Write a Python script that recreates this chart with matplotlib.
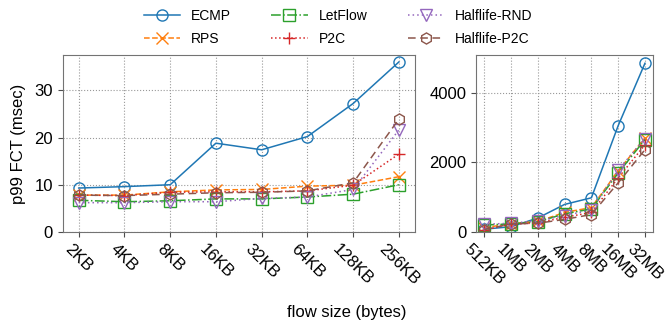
import numpy as np
import matplotlib
matplotlib.use("Agg")
import matplotlib.pyplot as plt

plt.rcParams['font.family'] = ['Liberation Sans', 'DejaVu Sans']
plt.rcParams['font.size'] = 12

# small flows (msec)
small_sizes = ["2KB", "4KB", "8KB", "16KB", "32KB", "64KB", "128KB", "256KB"]
ecmp_s = [9.3, 9.6, 10.0, 18.8, 17.4, 20.2, 27.2, 36.0]
rps_s = [7.8, 7.8, 8.5, 8.9, 9.0, 9.7, 9.9, 11.7]
letflow_s = [6.7, 6.4, 6.6, 7.0, 7.0, 7.4, 8.0, 10.0]
p2c_s = [7.8, 7.7, 8.4, 8.5, 8.5, 8.7, 9.9, 16.5]
hl_rnd_s = [6.2, 6.2, 6.4, 6.4, 7.1, 7.4, 9.0, 21.6]
hl_p2c_s = [7.8, 7.7, 8.0, 8.3, 8.4, 8.7, 10.4, 23.9]

# large flows (msec)
large_sizes = ["512KB", "1MB", "2MB", "4MB", "8MB", "16MB", "32MB"]
ecmp_l = [80, 150, 400, 790, 980, 3050, 4840]
rps_l = [120, 240, 300, 560, 700, 1750, 2700]
letflow_l = [200, 230, 290, 520, 660, 1690, 2650]
p2c_l = [60, 220, 260, 420, 560, 1550, 2500]
hl_rnd_l = [220, 250, 320, 470, 630, 1780, 2680]
hl_p2c_l = [70, 230, 250, 360, 500, 1410, 2360]

names = ["ECMP", "RPS", "LetFlow", "P2C", "Halflife-RND", "Halflife-P2C"]
markers = ["o", "x", "s", "+", "v", "h"]
styles = ["-", "--", "-.", ":", (0, (1, 2)), (0, (5, 3))]
colors = ["C0", "C1", "C2", "C3", "C4", "C5"]

small = [ecmp_s, rps_s, letflow_s, p2c_s, hl_rnd_s, hl_p2c_s]
large = [ecmp_l, rps_l, letflow_l, p2c_l, hl_rnd_l, hl_p2c_l]

fig = plt.figure(figsize=(6.67, 3.29), dpi=100)
ax1 = fig.add_axes([0.094, 0.295, 0.528, 0.538])
ax2 = fig.add_axes([0.714, 0.295, 0.265, 0.538])

for i in range(len(names)):
    ax1.plot(np.arange(len(small_sizes)), small[i], marker=markers[i], linestyle=styles[i],
             color=colors[i], markerfacecolor="none", markersize=8, linewidth=1.1, label=names[i])
    ax2.plot(np.arange(len(large_sizes)), large[i], marker=markers[i], linestyle=styles[i],
             color=colors[i], markerfacecolor="none", markersize=8, linewidth=1.1)

ax1.set_xticks(np.arange(len(small_sizes)))
ax1.set_xticklabels(small_sizes, rotation=-45)
ax2.set_xticks(np.arange(len(large_sizes)))
ax2.set_xticklabels(large_sizes, rotation=-45)
ax1.set_ylim(bottom=0)
ax2.set_ylim(bottom=0)
ax1.set_yticks([0, 10, 20, 30])
ax2.set_yticks([0, 2000, 4000])
ax1.set_ylabel("p99 FCT (msec)", labelpad=6)

for ax in [ax1, ax2]:
    ax.grid(True, linestyle=":", color="0.6", linewidth=0.8)
    for sp in ax.spines.values():
        sp.set_color("0.45")
    ax.tick_params(colors="0.3", labelcolor="black", labelsize=12)

fig.text(0.52, 0.05, "flow size (bytes)", ha="center", va="center", fontsize=12)

fig.legend(loc="upper center", bbox_to_anchor=(0.507, 1.01), ncol=3, frameon=False,
           fontsize=10, handlelength=2.6, columnspacing=2.9, labelspacing=0.62)

fig.savefig("out.png", dpi=100)
